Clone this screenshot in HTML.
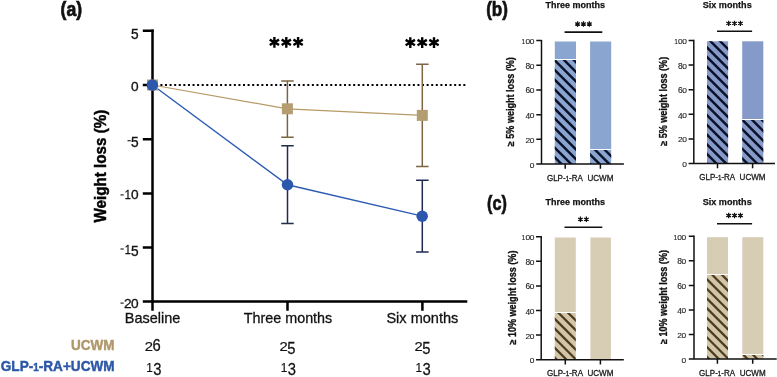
<!DOCTYPE html>
<html><head><meta charset="utf-8">
<style>
html,body{margin:0;padding:0;background:#fff;overflow:hidden;}
svg{display:block;will-change:transform;}
text{font-family:"Liberation Sans",sans-serif;}
</style></head>
<body>
<svg width="777" height="377" viewBox="0 0 777 377">
<defs>
  <g id="ast"><path d="M0,-5.4V5.4M-4.68,-2.7L4.68,2.7M-4.68,2.7L4.68,-2.7" stroke="#000" stroke-width="2.4"/></g>
  <g id="asts"><path d="M0,-2.7V2.7M-2.34,-1.35L2.34,1.35M-2.34,1.35L2.34,-1.35" stroke="#111" stroke-width="1.25"/><circle r="1.0" fill="#111"/></g>
</defs>

<text x="60.60" y="16.20" font-size="20.5" text-anchor="start" fill="#111" font-weight="bold" textLength="21.6" lengthAdjust="spacingAndGlyphs" stroke="#111" stroke-width="0.7">(a)</text>
<g stroke="#000" stroke-width="2.5" fill="none">
  <path d="M152.5,29.6V310.8"/>
  <path d="M142.8,30.8H153.7M142.8,85H152.5M142.8,139.2H152.5M142.8,193.4H152.5M142.8,247.5H152.5M142.8,301.6H467.3"/>
  <path d="M287.5,301.6V310.8M422.4,301.6V310.8"/>
</g>
<text transform="translate(134.80,38.90) scale(0.900,1.000)" font-size="15.22" text-anchor="middle" fill="#111" font-weight="normal" stroke="#111" stroke-width="0.35">5</text>
<text transform="translate(134.80,91.00) scale(0.900,0.800)" font-size="15.22" text-anchor="middle" fill="#111" font-weight="normal" stroke="#111" stroke-width="0.35">0</text>
<rect x="127.50" y="140.16" width="3.20" height="1.09" fill="#111"/>
<text transform="translate(134.80,147.30) scale(0.900,1.000)" font-size="15.22" text-anchor="middle" fill="#111" font-weight="normal" stroke="#111" stroke-width="0.35">5</text>
<rect x="120.50" y="194.36" width="3.20" height="1.09" fill="#111"/>
<text transform="translate(127.80,199.40) scale(0.720,0.800)" font-size="15.22" text-anchor="middle" fill="#111" font-weight="normal" stroke="#111" stroke-width="0.35">1</text>
<text transform="translate(134.80,199.40) scale(0.900,0.800)" font-size="15.22" text-anchor="middle" fill="#111" font-weight="normal" stroke="#111" stroke-width="0.35">0</text>
<rect x="120.50" y="248.46" width="3.20" height="1.09" fill="#111"/>
<text transform="translate(127.80,253.50) scale(0.720,0.800)" font-size="15.22" text-anchor="middle" fill="#111" font-weight="normal" stroke="#111" stroke-width="0.35">1</text>
<text transform="translate(134.80,255.60) scale(0.900,1.000)" font-size="15.22" text-anchor="middle" fill="#111" font-weight="normal" stroke="#111" stroke-width="0.35">5</text>
<rect x="120.50" y="302.56" width="3.20" height="1.09" fill="#111"/>
<text transform="translate(127.80,307.60) scale(0.900,0.800)" font-size="15.22" text-anchor="middle" fill="#111" font-weight="normal" stroke="#111" stroke-width="0.35">2</text>
<text transform="translate(134.80,307.60) scale(0.900,0.800)" font-size="15.22" text-anchor="middle" fill="#111" font-weight="normal" stroke="#111" stroke-width="0.35">0</text>
<text transform="translate(105.7,166.1) rotate(-90)" font-size="16" font-weight="bold" fill="#000" stroke="#000" stroke-width="0.45" text-anchor="middle" textLength="113" lengthAdjust="spacingAndGlyphs">Weight loss (%)</text>
<text x="152.60" y="322.80" font-size="15" text-anchor="middle" fill="#111" font-weight="normal" textLength="55.5" lengthAdjust="spacingAndGlyphs" stroke="#111" stroke-width="0.3">Baseline</text>
<text x="288.00" y="322.80" font-size="15" text-anchor="middle" fill="#111" font-weight="normal" textLength="88.5" lengthAdjust="spacingAndGlyphs" stroke="#111" stroke-width="0.3">Three months</text>
<text x="422.40" y="322.80" font-size="15" text-anchor="middle" fill="#111" font-weight="normal" textLength="72.0" lengthAdjust="spacingAndGlyphs" stroke="#111" stroke-width="0.3">Six months</text>
<path d="M160.4,85H466" stroke="#000" stroke-width="2.2" stroke-dasharray="2 2.59"/>
<g stroke="#7d6544" stroke-width="1.5" fill="none">
  <path d="M287.4,80.9V137.2M281.2,80.9H293.7M281.2,137.2H293.7"/>
  <path d="M422.3,64.3V166.4M416.1,64.3H428.6M416.1,166.4H428.6"/>
</g>
<g stroke="#1f2b4f" stroke-width="1.5" fill="none">
  <path d="M287.5,145.8V223.5M281.2,145.8H293.7M281.2,223.5H293.7"/>
  <path d="M422.3,180.3V251.9M416.1,180.3H428.6M416.1,251.9H428.6"/>
</g>
<path d="M152.5,85L287.4,108.8L422.3,115.4" stroke="#b89a66" stroke-width="1.25" fill="none"/>
<path d="M152.5,85L287.5,184.8L422.3,216.1" stroke="#2e5cb3" stroke-width="1.4" fill="none"/>
<g fill="#b59d72">
  <rect x="147" y="79.5" width="11" height="11"/>
  <rect x="281.9" y="103.3" width="11" height="11"/>
  <rect x="416.8" y="109.9" width="11" height="11"/>
</g>
<g fill="#2b57ad">
  <circle cx="152.4" cy="85.1" r="5.75"/>
  <circle cx="287.5" cy="184.8" r="5.75"/>
  <circle cx="422.2" cy="216.2" r="5.75"/>
</g>
<use href="#ast" x="274.4" y="42.3"/>
<use href="#ast" x="286.3" y="42.3"/>
<use href="#ast" x="298.1" y="42.3"/>
<use href="#ast" x="410.3" y="42.6"/>
<use href="#ast" x="422.2" y="42.6"/>
<use href="#ast" x="434.0" y="42.6"/>
<text x="114.40" y="350.40" font-size="15" text-anchor="end" fill="#b0976a" font-weight="bold" textLength="43.5" lengthAdjust="spacingAndGlyphs" stroke="#b0976a" stroke-width="0.45">UCWM</text>
<text x="114.60" y="371.00" font-size="15" text-anchor="end" fill="#2c57a6" font-weight="bold" textLength="113.8" lengthAdjust="spacingAndGlyphs" stroke="#2c57a6" stroke-width="0.45">GLP-<tspan font-size="11">1</tspan>-RA+UCWM</text>
<text transform="translate(148.90,351.00) scale(0.920,0.748)" font-size="16.09" text-anchor="middle" fill="#111" font-weight="normal" stroke="#111" stroke-width="0.25">2</text>
<text transform="translate(156.70,351.00) scale(0.920,1.000)" font-size="16.09" text-anchor="middle" fill="#111" font-weight="normal" stroke="#111" stroke-width="0.25">6</text>
<text transform="translate(283.60,351.00) scale(0.920,0.748)" font-size="16.09" text-anchor="middle" fill="#111" font-weight="normal" stroke="#111" stroke-width="0.25">2</text>
<text transform="translate(291.40,353.80) scale(0.920,1.000)" font-size="16.09" text-anchor="middle" fill="#111" font-weight="normal" stroke="#111" stroke-width="0.25">5</text>
<text transform="translate(418.50,351.00) scale(0.920,0.748)" font-size="16.09" text-anchor="middle" fill="#111" font-weight="normal" stroke="#111" stroke-width="0.25">2</text>
<text transform="translate(426.30,353.80) scale(0.920,1.000)" font-size="16.09" text-anchor="middle" fill="#111" font-weight="normal" stroke="#111" stroke-width="0.25">5</text>
<text transform="translate(149.50,372.00) scale(0.736,0.748)" font-size="16.09" text-anchor="middle" fill="#111" font-weight="normal" stroke="#111" stroke-width="0.25">1</text>
<text transform="translate(157.30,374.80) scale(0.920,1.000)" font-size="16.09" text-anchor="middle" fill="#111" font-weight="normal" stroke="#111" stroke-width="0.25">3</text>
<text transform="translate(284.00,372.00) scale(0.736,0.748)" font-size="16.09" text-anchor="middle" fill="#111" font-weight="normal" stroke="#111" stroke-width="0.25">1</text>
<text transform="translate(291.80,374.80) scale(0.920,1.000)" font-size="16.09" text-anchor="middle" fill="#111" font-weight="normal" stroke="#111" stroke-width="0.25">3</text>
<text transform="translate(418.90,372.00) scale(0.736,0.748)" font-size="16.09" text-anchor="middle" fill="#111" font-weight="normal" stroke="#111" stroke-width="0.25">1</text>
<text transform="translate(426.70,374.80) scale(0.920,1.000)" font-size="16.09" text-anchor="middle" fill="#111" font-weight="normal" stroke="#111" stroke-width="0.25">3</text>
<text x="486.20" y="16.40" font-size="20.5" text-anchor="start" fill="#111" font-weight="bold" textLength="21.8" lengthAdjust="spacingAndGlyphs" stroke="#111" stroke-width="0.7">(b)</text>
<text x="487.00" y="209.60" font-size="20.5" text-anchor="start" fill="#111" font-weight="bold" textLength="19.8" lengthAdjust="spacingAndGlyphs" stroke="#111" stroke-width="0.7">(c)</text>
<rect x="554.8" y="41.5" width="21.20" height="17.50" fill="#8aa5cf"/>
<clipPath id="c1"><rect x="554.80" y="60.00" width="21.20" height="104.00"/></clipPath>
<rect x="554.80" y="60.00" width="21.20" height="104.00" fill="#8aa5cf"/>
<path d="M552.80,19.60L578.00,44.80M552.80,29.30L578.00,54.50M552.80,39.00L578.00,64.20M552.80,48.70L578.00,73.90M552.80,58.40L578.00,83.60M552.80,68.10L578.00,93.30M552.80,77.80L578.00,103.00M552.80,87.50L578.00,112.70M552.80,97.20L578.00,122.40M552.80,106.90L578.00,132.10M552.80,116.60L578.00,141.80M552.80,126.30L578.00,151.50M552.80,136.00L578.00,161.20M552.80,145.70L578.00,170.90M552.80,155.40L578.00,180.60M552.80,165.10L578.00,190.30" stroke="#0a1128" stroke-width="2.45" clip-path="url(#c1)"/>
<rect x="590.1" y="41.5" width="21.10" height="107.50" fill="#8aa5cf"/>
<clipPath id="c2"><rect x="590.10" y="150.00" width="21.10" height="14.00"/></clipPath>
<rect x="590.10" y="150.00" width="21.10" height="14.00" fill="#8aa5cf"/>
<path d="M588.10,113.70L613.20,138.80M588.10,123.40L613.20,148.50M588.10,133.10L613.20,158.20M588.10,142.80L613.20,167.90M588.10,152.50L613.20,177.60M588.10,162.20L613.20,187.30" stroke="#0a1128" stroke-width="2.45" clip-path="url(#c2)"/>
<g stroke="#111" stroke-width="1.5" fill="none">
<path d="M541.5,39.90V164.00"/>
<path d="M536.30,40.60H541.50M536.30,65.28H541.50M536.30,89.96H541.50M536.30,114.64H541.50M536.30,139.32H541.50M536.30,164.00H541.50M537.20,164.00H623.90M565.20,164.00V168.70M600.40,164.00V168.70"/>
</g>
<text transform="translate(523.48,44.10) scale(0.800,0.828)" font-size="8.41" text-anchor="middle" fill="#222" font-weight="normal" stroke="#222" stroke-width="0.12">1</text>
<text transform="translate(527.73,44.10) scale(1.000,0.828)" font-size="8.41" text-anchor="middle" fill="#222" font-weight="normal" stroke="#222" stroke-width="0.12">0</text>
<text transform="translate(531.98,44.10) scale(1.000,0.828)" font-size="8.41" text-anchor="middle" fill="#222" font-weight="normal" stroke="#222" stroke-width="0.12">0</text>
<text transform="translate(527.73,68.78) scale(1.000,1.000)" font-size="8.41" text-anchor="middle" fill="#222" font-weight="normal" stroke="#222" stroke-width="0.12">8</text>
<text transform="translate(531.98,68.78) scale(1.000,0.828)" font-size="8.41" text-anchor="middle" fill="#222" font-weight="normal" stroke="#222" stroke-width="0.12">0</text>
<text transform="translate(527.73,93.46) scale(1.000,1.000)" font-size="8.41" text-anchor="middle" fill="#222" font-weight="normal" stroke="#222" stroke-width="0.12">6</text>
<text transform="translate(531.98,93.46) scale(1.000,0.828)" font-size="8.41" text-anchor="middle" fill="#222" font-weight="normal" stroke="#222" stroke-width="0.12">0</text>
<text transform="translate(527.73,119.14) scale(1.000,1.000)" font-size="8.41" text-anchor="middle" fill="#222" font-weight="normal" stroke="#222" stroke-width="0.12">4</text>
<text transform="translate(531.98,118.14) scale(1.000,0.828)" font-size="8.41" text-anchor="middle" fill="#222" font-weight="normal" stroke="#222" stroke-width="0.12">0</text>
<text transform="translate(527.73,142.82) scale(1.000,0.828)" font-size="8.41" text-anchor="middle" fill="#222" font-weight="normal" stroke="#222" stroke-width="0.12">2</text>
<text transform="translate(531.98,142.82) scale(1.000,0.828)" font-size="8.41" text-anchor="middle" fill="#222" font-weight="normal" stroke="#222" stroke-width="0.12">0</text>
<text transform="translate(531.98,167.50) scale(1.000,0.828)" font-size="8.41" text-anchor="middle" fill="#222" font-weight="normal" stroke="#222" stroke-width="0.12">0</text>
<path d="M564.6,32.1H602.3" stroke="#111" stroke-width="1.6"/>
<use href="#asts" x="577.55" y="24.0"/>
<use href="#asts" x="583.45" y="24.0"/>
<use href="#asts" x="589.35" y="24.0"/>
<text x="575.30" y="8.00" font-size="9.4" text-anchor="middle" fill="#111" font-weight="bold" textLength="59.5" lengthAdjust="spacingAndGlyphs" stroke="#111" stroke-width="0.25">Three months</text>
<text transform="translate(514.0,101.70) rotate(-90)" font-size="10" font-weight="bold" fill="#111" stroke="#111" stroke-width="0.3" text-anchor="middle" textLength="89" lengthAdjust="spacingAndGlyphs">≥ 5% weight loss (%)</text>
<text x="564.90" y="180.90" font-size="8.8" text-anchor="middle" fill="#1a1a1a" font-weight="normal" textLength="36" lengthAdjust="spacingAndGlyphs" stroke="#1a1a1a" stroke-width="0.3">GLP-<tspan font-size="6.8">1</tspan>-RA</text>
<text x="600.40" y="180.90" font-size="8.8" text-anchor="middle" fill="#1a1a1a" font-weight="normal" textLength="26" lengthAdjust="spacingAndGlyphs" stroke="#1a1a1a" stroke-width="0.3">UCWM</text>
<clipPath id="c3"><rect x="707.00" y="41.30" width="21.10" height="122.20"/></clipPath>
<rect x="707.00" y="41.30" width="21.10" height="122.20" fill="#869ac9"/>
<path d="M705.00,6.60L730.10,31.70M705.00,16.30L730.10,41.40M705.00,26.00L730.10,51.10M705.00,35.70L730.10,60.80M705.00,45.40L730.10,70.50M705.00,55.10L730.10,80.20M705.00,64.80L730.10,89.90M705.00,74.50L730.10,99.60M705.00,84.20L730.10,109.30M705.00,93.90L730.10,119.00M705.00,103.60L730.10,128.70M705.00,113.30L730.10,138.40M705.00,123.00L730.10,148.10M705.00,132.70L730.10,157.80M705.00,142.40L730.10,167.50M705.00,152.10L730.10,177.20M705.00,161.80L730.10,186.90" stroke="#0a1128" stroke-width="2.45" clip-path="url(#c3)"/>
<rect x="742.2" y="41.3" width="21.10" height="77.70" fill="#869ac9"/>
<clipPath id="c4"><rect x="742.20" y="120.00" width="21.10" height="43.50"/></clipPath>
<rect x="742.20" y="120.00" width="21.10" height="43.50" fill="#869ac9"/>
<path d="M740.20,78.80L765.30,103.90M740.20,88.50L765.30,113.60M740.20,98.20L765.30,123.30M740.20,107.90L765.30,133.00M740.20,117.60L765.30,142.70M740.20,127.30L765.30,152.40M740.20,137.00L765.30,162.10M740.20,146.70L765.30,171.80M740.20,156.40L765.30,181.50M740.20,166.10L765.30,191.20" stroke="#0a1128" stroke-width="2.45" clip-path="url(#c4)"/>
<g stroke="#111" stroke-width="1.5" fill="none">
<path d="M693.8,39.70V163.50"/>
<path d="M688.60,40.40H693.80M688.60,65.02H693.80M688.60,89.64H693.80M688.60,114.26H693.80M688.60,138.88H693.80M688.60,163.50H693.80M689.50,163.50H775.00M717.50,163.50V168.20M752.60,163.50V168.20"/>
</g>
<text transform="translate(676.08,43.90) scale(0.800,0.828)" font-size="8.41" text-anchor="middle" fill="#222" font-weight="normal" stroke="#222" stroke-width="0.12">1</text>
<text transform="translate(680.33,43.90) scale(1.000,0.828)" font-size="8.41" text-anchor="middle" fill="#222" font-weight="normal" stroke="#222" stroke-width="0.12">0</text>
<text transform="translate(684.58,43.90) scale(1.000,0.828)" font-size="8.41" text-anchor="middle" fill="#222" font-weight="normal" stroke="#222" stroke-width="0.12">0</text>
<text transform="translate(680.33,68.52) scale(1.000,1.000)" font-size="8.41" text-anchor="middle" fill="#222" font-weight="normal" stroke="#222" stroke-width="0.12">8</text>
<text transform="translate(684.58,68.52) scale(1.000,0.828)" font-size="8.41" text-anchor="middle" fill="#222" font-weight="normal" stroke="#222" stroke-width="0.12">0</text>
<text transform="translate(680.33,93.14) scale(1.000,1.000)" font-size="8.41" text-anchor="middle" fill="#222" font-weight="normal" stroke="#222" stroke-width="0.12">6</text>
<text transform="translate(684.58,93.14) scale(1.000,0.828)" font-size="8.41" text-anchor="middle" fill="#222" font-weight="normal" stroke="#222" stroke-width="0.12">0</text>
<text transform="translate(680.33,118.76) scale(1.000,1.000)" font-size="8.41" text-anchor="middle" fill="#222" font-weight="normal" stroke="#222" stroke-width="0.12">4</text>
<text transform="translate(684.58,117.76) scale(1.000,0.828)" font-size="8.41" text-anchor="middle" fill="#222" font-weight="normal" stroke="#222" stroke-width="0.12">0</text>
<text transform="translate(680.33,142.38) scale(1.000,0.828)" font-size="8.41" text-anchor="middle" fill="#222" font-weight="normal" stroke="#222" stroke-width="0.12">2</text>
<text transform="translate(684.58,142.38) scale(1.000,0.828)" font-size="8.41" text-anchor="middle" fill="#222" font-weight="normal" stroke="#222" stroke-width="0.12">0</text>
<text transform="translate(684.58,167.00) scale(1.000,0.828)" font-size="8.41" text-anchor="middle" fill="#222" font-weight="normal" stroke="#222" stroke-width="0.12">0</text>
<path d="M717.0,31.3H752.1" stroke="#111" stroke-width="1.6"/>
<use href="#asts" x="728.65" y="23.4"/>
<use href="#asts" x="734.55" y="23.4"/>
<use href="#asts" x="740.45" y="23.4"/>
<text x="727.20" y="8.20" font-size="9.4" text-anchor="middle" fill="#111" font-weight="bold" textLength="49" lengthAdjust="spacingAndGlyphs" stroke="#111" stroke-width="0.25">Six months</text>
<text transform="translate(667.0,101.35) rotate(-90)" font-size="10" font-weight="bold" fill="#111" stroke="#111" stroke-width="0.3" text-anchor="middle" textLength="89" lengthAdjust="spacingAndGlyphs">≥ 5% weight loss (%)</text>
<text x="717.20" y="180.20" font-size="8.8" text-anchor="middle" fill="#1a1a1a" font-weight="normal" textLength="36" lengthAdjust="spacingAndGlyphs" stroke="#1a1a1a" stroke-width="0.3">GLP-<tspan font-size="6.8">1</tspan>-RA</text>
<text x="752.60" y="180.20" font-size="8.8" text-anchor="middle" fill="#1a1a1a" font-weight="normal" textLength="26" lengthAdjust="spacingAndGlyphs" stroke="#1a1a1a" stroke-width="0.3">UCWM</text>
<rect x="554.8" y="237.5" width="21.00" height="74.50" fill="#d7ccb4"/>
<clipPath id="c5"><rect x="554.80" y="313.00" width="21.00" height="46.70"/></clipPath>
<rect x="554.80" y="313.00" width="21.00" height="46.70" fill="#d3c6a8"/>
<path d="M552.80,278.10L577.80,303.10M552.80,287.80L577.80,312.80M552.80,297.50L577.80,322.50M552.80,307.20L577.80,332.20M552.80,316.90L577.80,341.90M552.80,326.60L577.80,351.60M552.80,336.30L577.80,361.30M552.80,346.00L577.80,371.00M552.80,355.70L577.80,380.70M552.80,365.40L577.80,390.40" stroke="#4d3c1f" stroke-width="2.25" clip-path="url(#c5)"/>
<rect x="590.4" y="237.5" width="20.50" height="122.20" fill="#d7ccb4"/>
<g stroke="#111" stroke-width="1.5" fill="none">
<path d="M541.2,236.00V359.70"/>
<path d="M536.00,236.70H541.20M536.00,261.30H541.20M536.00,285.90H541.20M536.00,310.50H541.20M536.00,335.10H541.20M536.00,359.70H541.20M536.90,359.70H623.80M565.30,359.70V364.40M600.40,359.70V364.40"/>
</g>
<text transform="translate(523.48,240.20) scale(0.800,0.828)" font-size="8.41" text-anchor="middle" fill="#222" font-weight="normal" stroke="#222" stroke-width="0.12">1</text>
<text transform="translate(527.73,240.20) scale(1.000,0.828)" font-size="8.41" text-anchor="middle" fill="#222" font-weight="normal" stroke="#222" stroke-width="0.12">0</text>
<text transform="translate(531.98,240.20) scale(1.000,0.828)" font-size="8.41" text-anchor="middle" fill="#222" font-weight="normal" stroke="#222" stroke-width="0.12">0</text>
<text transform="translate(527.73,264.80) scale(1.000,1.000)" font-size="8.41" text-anchor="middle" fill="#222" font-weight="normal" stroke="#222" stroke-width="0.12">8</text>
<text transform="translate(531.98,264.80) scale(1.000,0.828)" font-size="8.41" text-anchor="middle" fill="#222" font-weight="normal" stroke="#222" stroke-width="0.12">0</text>
<text transform="translate(527.73,289.40) scale(1.000,1.000)" font-size="8.41" text-anchor="middle" fill="#222" font-weight="normal" stroke="#222" stroke-width="0.12">6</text>
<text transform="translate(531.98,289.40) scale(1.000,0.828)" font-size="8.41" text-anchor="middle" fill="#222" font-weight="normal" stroke="#222" stroke-width="0.12">0</text>
<text transform="translate(527.73,315.00) scale(1.000,1.000)" font-size="8.41" text-anchor="middle" fill="#222" font-weight="normal" stroke="#222" stroke-width="0.12">4</text>
<text transform="translate(531.98,314.00) scale(1.000,0.828)" font-size="8.41" text-anchor="middle" fill="#222" font-weight="normal" stroke="#222" stroke-width="0.12">0</text>
<text transform="translate(527.73,338.60) scale(1.000,0.828)" font-size="8.41" text-anchor="middle" fill="#222" font-weight="normal" stroke="#222" stroke-width="0.12">2</text>
<text transform="translate(531.98,338.60) scale(1.000,0.828)" font-size="8.41" text-anchor="middle" fill="#222" font-weight="normal" stroke="#222" stroke-width="0.12">0</text>
<text transform="translate(531.98,363.20) scale(1.000,0.828)" font-size="8.41" text-anchor="middle" fill="#222" font-weight="normal" stroke="#222" stroke-width="0.12">0</text>
<path d="M564.5,227.3H602.3" stroke="#111" stroke-width="1.6"/>
<use href="#asts" x="580.45" y="219.3"/>
<use href="#asts" x="586.35" y="219.3"/>
<text x="575.30" y="204.90" font-size="9.4" text-anchor="middle" fill="#111" font-weight="bold" textLength="59.5" lengthAdjust="spacingAndGlyphs" stroke="#111" stroke-width="0.25">Three months</text>
<text transform="translate(515.5,297.60) rotate(-90)" font-size="10" font-weight="bold" fill="#111" stroke="#111" stroke-width="0.3" text-anchor="middle" textLength="94" lengthAdjust="spacingAndGlyphs">≥ 10% weight loss (%)</text>
<text x="565.00" y="376.00" font-size="8.8" text-anchor="middle" fill="#1a1a1a" font-weight="normal" textLength="36" lengthAdjust="spacingAndGlyphs" stroke="#1a1a1a" stroke-width="0.3">GLP-<tspan font-size="6.8">1</tspan>-RA</text>
<text x="600.40" y="376.00" font-size="8.8" text-anchor="middle" fill="#1a1a1a" font-weight="normal" textLength="26" lengthAdjust="spacingAndGlyphs" stroke="#1a1a1a" stroke-width="0.3">UCWM</text>
<rect x="707.0" y="237.2" width="21.00" height="36.80" fill="#d7ccb4"/>
<clipPath id="c6"><rect x="707.00" y="275.00" width="21.00" height="84.00"/></clipPath>
<rect x="707.00" y="275.00" width="21.00" height="84.00" fill="#d3c6a8"/>
<path d="M705.00,238.50L730.00,263.50M705.00,248.20L730.00,273.20M705.00,257.90L730.00,282.90M705.00,267.60L730.00,292.60M705.00,277.30L730.00,302.30M705.00,287.00L730.00,312.00M705.00,296.70L730.00,321.70M705.00,306.40L730.00,331.40M705.00,316.10L730.00,341.10M705.00,325.80L730.00,350.80M705.00,335.50L730.00,360.50M705.00,345.20L730.00,370.20M705.00,354.90L730.00,379.90M705.00,364.60L730.00,389.60" stroke="#4d3c1f" stroke-width="2.25" clip-path="url(#c6)"/>
<rect x="742.3" y="237.2" width="21.00" height="116.80" fill="#d7ccb4"/>
<clipPath id="c7"><rect x="742.30" y="355.00" width="21.00" height="4.00"/></clipPath>
<rect x="742.30" y="355.00" width="21.00" height="4.00" fill="#d3c6a8"/>
<path d="M740.30,312.90L765.30,337.90M740.30,322.60L765.30,347.60M740.30,332.30L765.30,357.30M740.30,342.00L765.30,367.00M740.30,351.70L765.30,376.70M740.30,361.40L765.30,386.40" stroke="#4d3c1f" stroke-width="2.25" clip-path="url(#c7)"/>
<g stroke="#111" stroke-width="1.5" fill="none">
<path d="M694.0,235.60V359.00"/>
<path d="M688.80,236.30H694.00M688.80,260.84H694.00M688.80,285.38H694.00M688.80,309.92H694.00M688.80,334.46H694.00M688.80,359.00H694.00M689.70,359.00H776.70M717.40,359.00V363.70M752.70,359.00V363.70"/>
</g>
<text transform="translate(675.38,239.80) scale(0.800,0.828)" font-size="8.41" text-anchor="middle" fill="#222" font-weight="normal" stroke="#222" stroke-width="0.12">1</text>
<text transform="translate(679.62,239.80) scale(1.000,0.828)" font-size="8.41" text-anchor="middle" fill="#222" font-weight="normal" stroke="#222" stroke-width="0.12">0</text>
<text transform="translate(683.88,239.80) scale(1.000,0.828)" font-size="8.41" text-anchor="middle" fill="#222" font-weight="normal" stroke="#222" stroke-width="0.12">0</text>
<text transform="translate(679.62,264.34) scale(1.000,1.000)" font-size="8.41" text-anchor="middle" fill="#222" font-weight="normal" stroke="#222" stroke-width="0.12">8</text>
<text transform="translate(683.88,264.34) scale(1.000,0.828)" font-size="8.41" text-anchor="middle" fill="#222" font-weight="normal" stroke="#222" stroke-width="0.12">0</text>
<text transform="translate(679.62,288.88) scale(1.000,1.000)" font-size="8.41" text-anchor="middle" fill="#222" font-weight="normal" stroke="#222" stroke-width="0.12">6</text>
<text transform="translate(683.88,288.88) scale(1.000,0.828)" font-size="8.41" text-anchor="middle" fill="#222" font-weight="normal" stroke="#222" stroke-width="0.12">0</text>
<text transform="translate(679.62,314.42) scale(1.000,1.000)" font-size="8.41" text-anchor="middle" fill="#222" font-weight="normal" stroke="#222" stroke-width="0.12">4</text>
<text transform="translate(683.88,313.42) scale(1.000,0.828)" font-size="8.41" text-anchor="middle" fill="#222" font-weight="normal" stroke="#222" stroke-width="0.12">0</text>
<text transform="translate(679.62,337.96) scale(1.000,0.828)" font-size="8.41" text-anchor="middle" fill="#222" font-weight="normal" stroke="#222" stroke-width="0.12">2</text>
<text transform="translate(683.88,337.96) scale(1.000,0.828)" font-size="8.41" text-anchor="middle" fill="#222" font-weight="normal" stroke="#222" stroke-width="0.12">0</text>
<text transform="translate(683.88,362.50) scale(1.000,0.828)" font-size="8.41" text-anchor="middle" fill="#222" font-weight="normal" stroke="#222" stroke-width="0.12">0</text>
<path d="M717.0,223.7H752.1" stroke="#111" stroke-width="1.6"/>
<use href="#asts" x="728.65" y="215.5"/>
<use href="#asts" x="734.55" y="215.5"/>
<use href="#asts" x="740.45" y="215.5"/>
<text x="727.20" y="204.90" font-size="9.4" text-anchor="middle" fill="#111" font-weight="bold" textLength="49" lengthAdjust="spacingAndGlyphs" stroke="#111" stroke-width="0.25">Six months</text>
<text transform="translate(667.0,297.05) rotate(-90)" font-size="10" font-weight="bold" fill="#111" stroke="#111" stroke-width="0.3" text-anchor="middle" textLength="94" lengthAdjust="spacingAndGlyphs">≥ 10% weight loss (%)</text>
<text x="717.10" y="375.60" font-size="8.8" text-anchor="middle" fill="#1a1a1a" font-weight="normal" textLength="36" lengthAdjust="spacingAndGlyphs" stroke="#1a1a1a" stroke-width="0.3">GLP-<tspan font-size="6.8">1</tspan>-RA</text>
<text x="752.70" y="375.60" font-size="8.8" text-anchor="middle" fill="#1a1a1a" font-weight="normal" textLength="26" lengthAdjust="spacingAndGlyphs" stroke="#1a1a1a" stroke-width="0.3">UCWM</text>
</svg>
</body></html>
